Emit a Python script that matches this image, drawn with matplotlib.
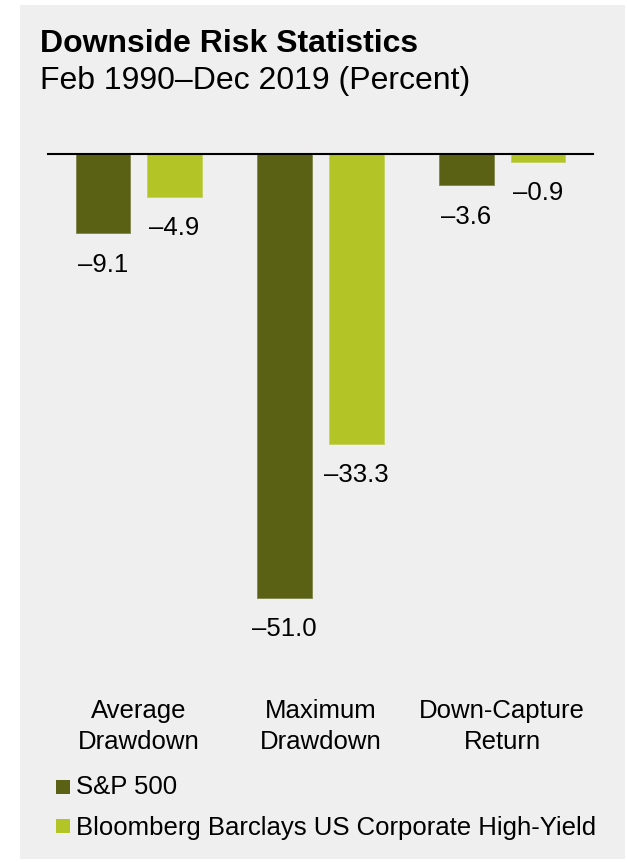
import matplotlib
matplotlib.use("Agg")
import matplotlib.pyplot as plt
from matplotlib.patches import Rectangle
from matplotlib.transforms import blended_transform_factory
import numpy as np

plt.rcParams["font.family"] = ["Liberation Sans", "DejaVu Sans"]

# Data
categories = ["Average\nDrawdown", "Maximum\nDrawdown", "Down-Capture\nReturn"]
series_names = ["S&P 500", "Bloomberg Barclays US Corporate High-Yield"]
sp500 = [-9.1, -51.0, -3.6]
high_yield = [-4.9, -33.3, -0.9]

title = "Downside Risk Statistics"
subtitle = "Feb 1990\u2013Dec 2019 (Percent)"

dark = "#5a6115"
light = "#b2c426"
panel = "#efefef"

W, H = 627, 863
fig = plt.figure(figsize=(W / 100, H / 100), dpi=100)
fig.patch.set_facecolor("white")


def fy(py):
    """Figure fraction from a pixel row measured from the top."""
    return 1 - py / H


def fx(px):
    return px / W


# Grey panel behind everything
fig.patches.append(Rectangle((fx(20), fy(859)), fx(625) - fx(20), fy(5) - fy(859),
                             transform=fig.transFigure, facecolor=panel,
                             edgecolor="none", zorder=-10))

# Titles
fig.text(fx(40), fy(52), title, fontsize=23, fontweight="bold", va="baseline", ha="left")
fig.text(fx(40), fy(89), subtitle, fontsize=23, va="baseline", ha="left")

# Plot area
top_px, left_px, right_px = 154, 48, 593
ymin = -58
px_per_unit = 8.706
bottom_px = top_px + (-ymin) * px_per_unit
ax = fig.add_axes([fx(left_px), fy(bottom_px), fx(right_px) - fx(left_px),
                   fy(top_px) - fy(bottom_px)])
ax.set_zorder(5)
ax.set_facecolor("none")
ax.set_xlim(-0.5, 2.5)
ax.set_ylim(ymin, 0)
for s in ax.spines.values():
    s.set_visible(False)
ax.set_xticks([])
ax.set_yticks([])

fs = 18.5
x = np.arange(len(categories))
width = 0.302
offset = 0.197
b1 = ax.bar(x - offset, sp500, width, color=dark, edgecolor="#7d8548", linewidth=0.6, zorder=2)
b2 = ax.bar(x + offset, high_yield, width, color=light, edgecolor="#c3d15e", linewidth=0.6, zorder=2)
ax.axhline(0, color="black", linewidth=1.5, clip_on=False, zorder=3)

for bars, vals in ((b1, sp500), (b2, high_yield)):
    for rect, v in zip(bars, vals):
        ax.annotate(f"{v:.1f}".replace("-", "\u2013"),
                    (rect.get_x() + rect.get_width() / 2, v),
                    xytext=(0, -14), textcoords="offset points",
                    ha="center", va="top", fontsize=fs, annotation_clip=False)

# Category labels under the plot area
trans = blended_transform_factory(ax.transData, fig.transFigure)
for xi, cat in zip(x, categories):
    line1, line2 = cat.split("\n")
    ax.text(xi, fy(718), line1, transform=trans, ha="center", va="baseline", fontsize=fs)
    ax.text(xi, fy(749), line2, transform=trans, ha="center", va="baseline", fontsize=fs)

# Legend
for (sq_top, base), name, col in zip(((780, 794), (819, 835)), series_names, (dark, light)):
    fig.patches.append(Rectangle((fx(56), fy(sq_top + 14)), fx(14), fy(0) - fy(14),
                                 transform=fig.transFigure, facecolor=col,
                                 edgecolor="none", zorder=1))
    fig.text(fx(76), fy(base), name, fontsize=fs, va="baseline", ha="left")

fig.savefig("out.png", dpi=100, facecolor=fig.get_facecolor())
